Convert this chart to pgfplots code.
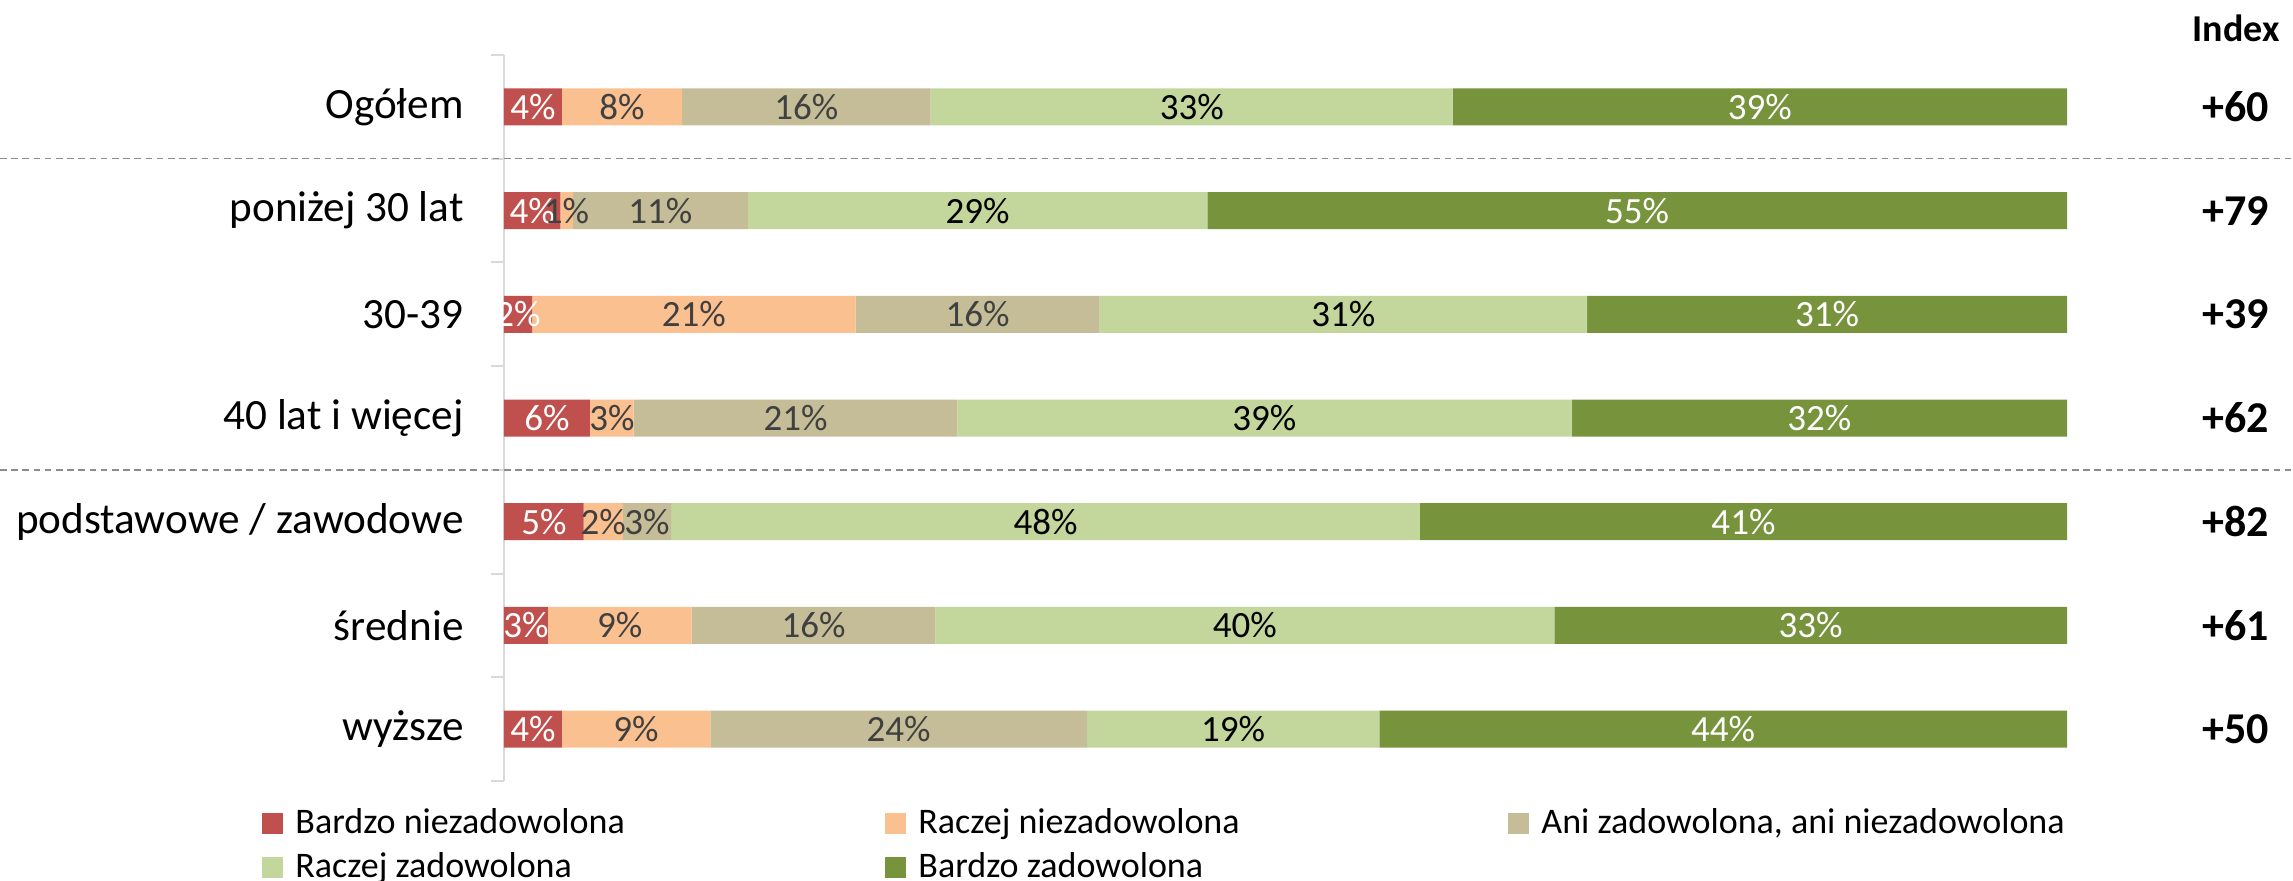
\documentclass[border=0pt]{standalone}
\usepackage{fontspec}
\setmainfont{Carlito}
\usepackage{pgfplots}
\pgfplotsset{compat=1.18}
\usepackage{pgfplotstable}

\definecolor{bnz}{HTML}{C0504D}
\definecolor{rnz}{HTML}{FAC090}
\definecolor{ani}{HTML}{C4BD97}
\definecolor{rz}{HTML}{C3D69B}
\definecolor{bz}{HTML}{77933C}
\definecolor{txtdark}{HTML}{404040}
\definecolor{axgray}{HTML}{D9D9D9}
\definecolor{dashgray}{HTML}{8C8C8C}

% a..e = segment widths (each row fills 100%)
% la..le = printed labels, idx = index column
\pgfplotstableread{
row a    b    c     d     e     la lb lc ld le idx
0   3.7  7.7  15.9  33.4  39.3  4  8  16 33 39 +60
1   3.6  0.8  11.2  29.4  55.0  4  1  11 29 55 +79
2   1.8  20.7 15.6  31.2  30.7  2  21 16 31 31 +39
3   5.5  2.8  20.7  39.3  31.7  6  3  21 39 32 +62
4   5.1  2.5  3.1   47.9  41.4  5  2  3  48 41 +82
5   2.8  9.2  15.6  39.6  32.8  3  9  16 40 33 +61
6   3.7  9.5  24.1  18.7  44.0  4  9  24 19 44 +50
}\data
% label positions = middle of each segment
\pgfplotstablecreatecol[create col/expr={\thisrow{a}/2}]{ma}\data
\pgfplotstablecreatecol[create col/expr={\thisrow{a}+\thisrow{b}/2}]{mb}\data
\pgfplotstablecreatecol[create col/expr={\thisrow{a}+\thisrow{b}+\thisrow{c}/2}]{mc}\data
\pgfplotstablecreatecol[create col/expr={\thisrow{a}+\thisrow{b}+\thisrow{c}+\thisrow{d}/2}]{md}\data
\pgfplotstablecreatecol[create col/expr={100-\thisrow{e}/2}]{me}\data
\pgfplotstablecreatecol[create col/expr={110.8}]{mi}\data

\pgfplotsset{
  frame/.style={
    at={(252pt,49.5pt)}, anchor=south west,
    width=781.5pt, height=363pt, scale only axis,
    xmin=0, xmax=100, ymin=-0.5, ymax=6.5,
    y dir=reverse, clip=false,
  },
  lab/.style={only marks, mark=none, point meta=explicit symbolic,
    nodes near coords={\pgfplotspointmeta\%},
    every node near coord/.append style={text=#1, anchor=center,
      inner sep=0pt, font=\fontsize{18.5}{18.5}\selectfont}},
}

\begin{document}
\begin{tikzpicture}
\useasboundingbox (0,0) rectangle (1146.5pt,440pt);
\begin{axis}[
  frame,
  xbar stacked, bar width=18.5pt,
  hide x axis, axis y line*=left,
  y axis line style={draw=axgray, line width=1pt},
  ytick={0,...,6},
  yticklabels={Ogółem, poniżej 30 lat, 30-39, 40 lat i więcej,
    podstawowe / zawodowe, średnie, wyższe},
  major tick length=0pt,
  minor ytick={-0.5,0.5,...,6.5},
  minor tick length=6.5pt, tick align=outside,
  every minor tick/.append style={draw=axgray, line width=1pt},
  yticklabel style={font=\fontsize{21.6}{21.6}\selectfont, inner sep=0pt, xshift=-20pt},
  legend columns=3,
  legend image code/.code={
    \fill[#1] (0pt,-5.25pt) rectangle (10.5pt,5.25pt);
    \path (16.5pt,0pt);},
  legend style={draw=none, fill=none, inner xsep=0pt, inner ysep=0pt,
    row sep=0pt, column sep=0pt,
    at={(axis description cs:-0.1548,-0.0275)}, anchor=north west,
    font=\fontsize{18}{18}\selectfont,
    nodes={inner sep=0pt, anchor=west, text height=16pt, text depth=6pt}},
]
\addplot[fill=bnz, draw=none] table[x=a, y=row] {\data};
\addplot[fill=rnz, draw=none] table[x=b, y=row] {\data};
\addplot[fill=ani, draw=none] table[x=c, y=row] {\data};
\addplot[fill=rz,  draw=none] table[x=d, y=row] {\data};
\addplot[fill=bz,  draw=none] table[x=e, y=row] {\data};
\addlegendentry{\makebox[295pt][l]{Bardzo niezadowolona}}
\addlegendentry{\makebox[295pt][l]{Raczej niezadowolona}}
\addlegendentry{\makebox[295pt][l]{Ani zadowolona, ani niezadowolona}}
\addlegendentry{\makebox[295pt][l]{Raczej zadowolona}}
\addlegendentry{\makebox[295pt][l]{Bardzo zadowolona}}
\coordinate (s1) at (axis cs:0,0.5);
\coordinate (s2) at (axis cs:0,3.5);
\end{axis}

% labels: same frame, not stacked
\begin{axis}[frame, hide axis]
\addplot[lab=white]   table[x=ma, y=row, meta=la] {\data};
\addplot[lab=txtdark] table[x=mb, y=row, meta=lb] {\data};
\addplot[lab=txtdark] table[x=mc, y=row, meta=lc] {\data};
\addplot[lab=black]   table[x=md, y=row, meta=ld] {\data};
\addplot[lab=white]   table[x=me, y=row, meta=le] {\data};
\addplot[only marks, mark=none, point meta=explicit symbolic,
  nodes near coords,
  every node near coord/.append style={anchor=center, inner sep=0pt,
    font=\bfseries\fontsize{22}{22}\selectfont}]
  table[x=mi, y=row, meta=idx] {\data};
\end{axis}

\draw[dashgray, line width=0.7pt, dash pattern=on 3.3pt off 2.3pt]
  (s1) ++(-252pt,0) -- ++(1146.5pt,0);
\draw[dashgray, line width=0.7pt, dash pattern=on 3.3pt off 2.3pt]
  (s2) ++(-252pt,0) -- ++(1146.5pt,0);
\node[font=\bfseries\fontsize{19}{19}\selectfont] at (1118pt,426pt) {Index};
\end{tikzpicture}
\end{document}
